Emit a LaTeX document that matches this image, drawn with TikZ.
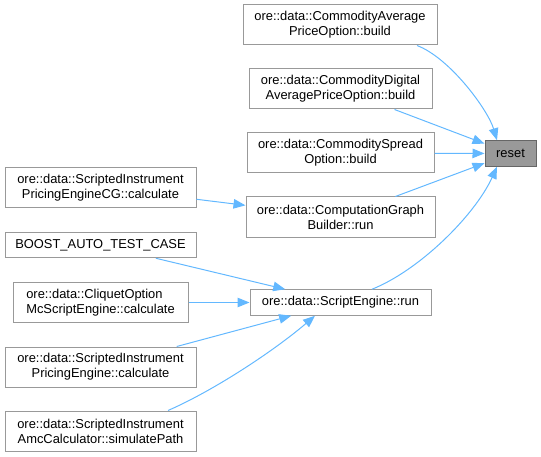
\documentclass[tikz,border=0pt]{standalone}
\usepackage{fontspec}
\setmainfont{Liberation Sans}
\usepackage{xcolor}
\usetikzlibrary{arrows.meta,calc}
\definecolor{edgeblue}{HTML}{63B8FF}
\definecolor{boxgray}{HTML}{999999}
\definecolor{hlgray}{HTML}{666666}

\begin{document}
\begin{tikzpicture}[x=1pt,y=1pt,>={Triangle[length=12pt,width=9.5pt]},
  fn/.style={draw=boxgray,line width=1pt,fill=white,inner sep=0pt,minimum height=40pt,align=center,font=\fontsize{12.9}{15}\selectfont},
  fnone/.style={fn,minimum height=25.5pt},
  cur/.style={fnone,fill=boxgray,draw=hlgray},
  call/.style={->,edgeblue,line width=1pt}]
\useasboundingbox (0,0) rectangle (541,456);
% callee
\node[cur,minimum width=51pt] (reset) at (510.5,302.5) {reset};
% direct callers
\node[fn,minimum width=194pt] (CAPO) at (340,431) {ore::data::CommodityAverage\\PriceOption::build};
\node[fn,minimum width=183pt] (CDAPO) at (340.5,367) {ore::data::CommodityDigital\\AveragePriceOption::build};
\node[fn,minimum width=187pt] (CSO) at (340.5,303) {ore::data::CommoditySpread\\Option::build};
\node[fn,minimum width=189pt] (CGB) at (340.5,239) {ore::data::ComputationGraph\\Builder::run};
\node[fnone,minimum width=181pt] (SE) at (340.5,153.5) {ore::data::ScriptEngine::run};
% second level
\node[fn,minimum width=191pt] (SIPECG) at (100.5,268.5) {ore::data::ScriptedInstrument\\PricingEngineCG::calculate};
\node[fnone,minimum width=191pt] (BOOST) at (100.5,211) {BOOST\_AUTO\_TEST\_CASE};
\node[fn,minimum width=175pt,align=left] (CQ) at (100.5,153.5) {ore::data::CliquetOption\\McScriptEngine::calculate};
\node[fn,minimum width=191pt] (SIPE) at (100.5,89) {ore::data::ScriptedInstrument\\PricingEngine::calculate};
\node[fn,minimum width=191pt] (SIAMC) at (100.5,25) {ore::data::ScriptedInstrument\\AmcCalculator::simulatePath};
% calls into reset
\draw[call] ($(CAPO.south)+(77,0)$) .. controls (450,398) and (488,346) .. ($(reset.north)+(-13.5,0)$);
\draw[call] (CDAPO) -- (reset);
\draw[call] (CSO) -- (reset);
\draw[call] (CGB) -- (reset);
\draw[call] ($(SE.north)+(31.5,0)$) .. controls (420,186) and (475,241) .. ($(reset.south)+(-13.5,0)$);
% calls into the engines
\draw[call] (SIPECG) -- (CGB);
\draw[call] (BOOST) -- (SE);
\draw[call] (CQ) -- (SE);
\draw[call] (SIPE) -- (SE);
\draw[call] ($(SIAMC.north)+(67.5,0)$) .. controls (215,66) and (275,106) .. ($(SE.south)+(-25.5,0)$);
\end{tikzpicture}
\end{document}
